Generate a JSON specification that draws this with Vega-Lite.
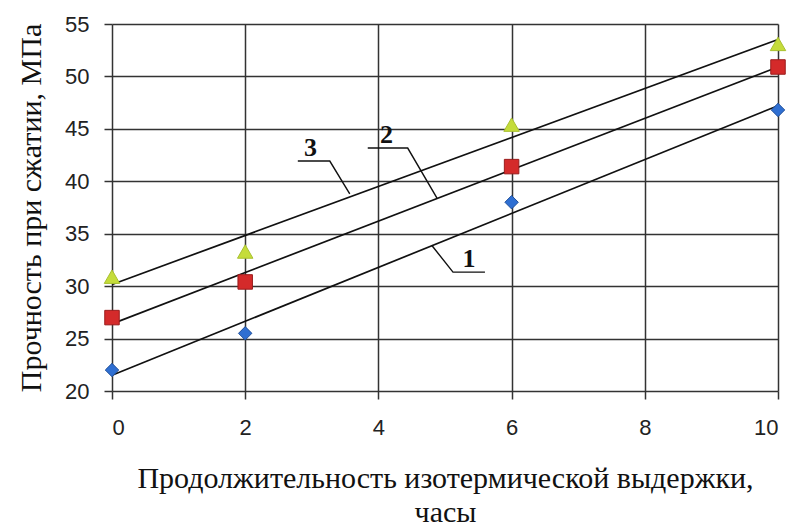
{
  "$schema": "https://vega.github.io/schema/vega-lite/v6.json",
  "width": 666,
  "height": 367,
  "autosize": {"type": "none"},
  "padding": {"left": 112, "top": 24, "right": 14, "bottom": 140},
  "background": "white",
  "config": {
    "view": {"stroke": null},
    "axis": {
      "gridColor": "#333333",
      "gridWidth": 1.5,
      "gridOpacity": 1,
      "tickColor": "#333333",
      "tickWidth": 1.5,
      "tickSize": 8,
      "domain": false,
      "labelFont": "Liberation Sans",
      "labelFontSize": 22,
      "labelColor": "#222222",
      "titleFont": "Liberation Serif",
      "titleFontSize": 30,
      "titleFontWeight": "normal",
      "titleColor": "#111111"
    }
  },
  "datasets": {
    "points": [
      {"series": "1", "x": 0, "y": 22.0},
      {"series": "1", "x": 2, "y": 25.5},
      {"series": "1", "x": 6, "y": 38.0},
      {"series": "1", "x": 10, "y": 46.8},
      {"series": "2", "x": 0, "y": 27.0},
      {"series": "2", "x": 2, "y": 30.4},
      {"series": "2", "x": 6, "y": 41.4},
      {"series": "2", "x": 10, "y": 50.9},
      {"series": "3", "x": 0, "y": 30.9},
      {"series": "3", "x": 2, "y": 33.3},
      {"series": "3", "x": 6, "y": 45.4},
      {"series": "3", "x": 10, "y": 53.1}
    ],
    "leaders": [
      {"label": "3", "order": 1, "x": 2.79, "y": 41.93},
      {"label": "3", "order": 2, "x": 3.27, "y": 41.93},
      {"label": "3", "order": 3, "x": 3.57, "y": 38.8},
      {"label": "2", "order": 1, "x": 3.84, "y": 43.17},
      {"label": "2", "order": 2, "x": 4.44, "y": 43.17},
      {"label": "2", "order": 3, "x": 4.88, "y": 38.4},
      {"label": "1", "order": 1, "x": 4.80, "y": 33.9},
      {"label": "1", "order": 2, "x": 5.12, "y": 31.34},
      {"label": "1", "order": 3, "x": 5.60, "y": 31.34}
    ],
    "labels": [
      {"label": "3", "x": 2.98, "y": 42.4},
      {"label": "2", "x": 4.12, "y": 43.64},
      {"label": "1", "x": 5.36, "y": 31.82}
    ]
  },
  "encoding": {
    "x": {
      "field": "x",
      "type": "quantitative",
      "scale": {"domain": [0, 10], "nice": false, "zero": false},
      "axis": {
        "values": [0, 2, 4, 6, 8, 10],
        "labelPadding": 18,
        "title": ["Продолжительность изотермической выдержки,", "часы"],
        "titlePadding": 25,
        "titleLineHeight": 34
      }
    },
    "y": {
      "field": "y",
      "type": "quantitative",
      "scale": {"domain": [20, 55], "nice": false, "zero": false},
      "axis": {
        "values": [20, 25, 30, 35, 40, 45, 50, 55],
        "labelPadding": 15,
        "title": "Прочность при сжатии, МПа",
        "titlePadding": 18
      }
    }
  },
  "layer": [
    {
      "data": {"name": "points"},
      "transform": [
        {"regression": "y", "on": "x", "groupby": ["series"], "extent": [0, 10]}
      ],
      "mark": {"type": "line", "color": "#111111", "strokeWidth": 1.7},
      "encoding": {"detail": {"field": "series", "type": "nominal"}}
    },
    {
      "data": {"name": "leaders"},
      "mark": {"type": "line", "color": "#111111", "strokeWidth": 1.4},
      "encoding": {
        "detail": {"field": "label", "type": "nominal"},
        "order": {"field": "order", "type": "quantitative"}
      }
    },
    {
      "data": {"name": "labels"},
      "mark": {"type": "text", "font": "Liberation Serif", "fontSize": 26, "fontWeight": "bold", "baseline": "alphabetic", "align": "center", "color": "#111111"},
      "encoding": {"text": {"field": "label", "type": "nominal"}}
    },
    {
      "data": {"name": "points"},
      "mark": {"type": "point", "filled": true, "opacity": 1, "strokeWidth": 1},
      "encoding": {
        "shape": {"field": "series", "type": "nominal", "scale": {"domain": ["1", "2", "3"], "range": ["diamond", "square", "triangle-up"]}, "legend": null},
        "fill": {"field": "series", "type": "nominal", "scale": {"domain": ["1", "2", "3"], "range": ["#2f6fd2", "#d42a2a", "#c5dc3a"]}, "legend": null},
        "stroke": {"field": "series", "type": "nominal", "scale": {"domain": ["1", "2", "3"], "range": ["#1f4f9a", "#9a1c1c", "#a8c030"]}, "legend": null},
        "size": {"field": "series", "type": "nominal", "scale": {"domain": ["1", "2", "3"], "range": [180, 240, 170]}, "legend": null}
      }
    }
  ]
}
